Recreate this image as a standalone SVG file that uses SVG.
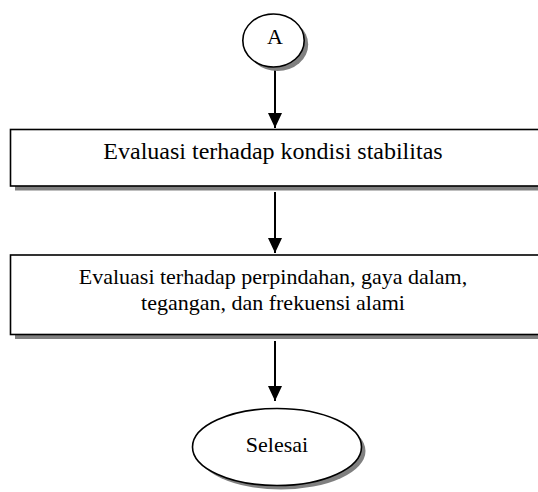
<svg xmlns="http://www.w3.org/2000/svg" width="538" height="492" viewBox="0 0 538 492">
  <style>
    .shape { fill: #ffffff; stroke: #000000; stroke-width: 1.6; }
    .shadow { fill: #808080; stroke: none; }
    .label { font-family: "Liberation Serif", "Times New Roman", serif; font-size: 22px; fill: #000000; text-anchor: middle; }
    .big { font-size: 24px; }
    .flow { stroke: #000000; stroke-width: 2; fill: none; marker-end: url(#head); }
  </style>
  <defs>
    <marker id="head" markerUnits="userSpaceOnUse" markerWidth="16" markerHeight="16" viewBox="0 0 16 16" refX="15" refY="8" orient="auto">
      <path d="M0,1 L15,8 L0,15 Z" fill="#000000"/>
    </marker>
  </defs>

  <!-- vertical flow arrows -->
  <g id="connectors">
    <line class="flow" x1="275" y1="67" x2="275" y2="128"/>
    <line class="flow" x1="275" y1="192" x2="275" y2="253"/>
    <line class="flow" x1="275" y1="341" x2="275" y2="401"/>
  </g>

  <!-- off-page connector A -->
  <g id="node-a">
    <ellipse class="shadow" cx="277.5" cy="44.5" rx="30.7" ry="26.5"/>
    <ellipse class="shape" cx="273.5" cy="40.5" rx="30.7" ry="26.5"/>
    <text class="label" x="275" y="44">A</text>
  </g>

  <!-- process: stability -->
  <g id="node-stability">
    <rect class="shadow" x="15" y="134" width="530" height="56.5"/>
    <rect class="shape" x="10.5" y="129.5" width="530" height="56.5"/>
    <text class="label big" x="273" y="159">Evaluasi terhadap kondisi stabilitas</text>
  </g>

  <!-- process: response evaluation -->
  <g id="node-response">
    <rect class="shadow" x="15" y="259.5" width="530" height="79.5"/>
    <rect class="shape" x="10.5" y="255" width="530" height="79.5"/>
    <text class="label" x="273" y="284">Evaluasi terhadap perpindahan, gaya dalam,</text>
    <text class="label" x="273" y="310">tegangan, dan frekuensi alami</text>
  </g>

  <!-- terminator -->
  <g id="node-end">
    <ellipse class="shadow" cx="281" cy="451" rx="84.5" ry="38.5"/>
    <ellipse class="shape" cx="277" cy="447" rx="84.5" ry="38.5"/>
    <text class="label" x="277" y="452">Selesai</text>
  </g>
</svg>
